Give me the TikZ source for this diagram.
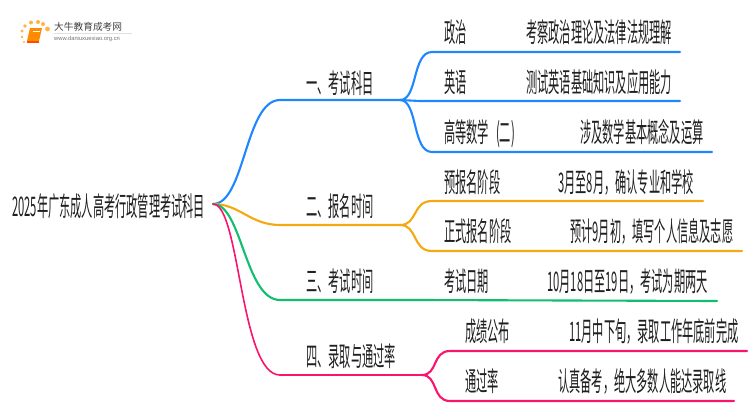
\documentclass[tikz,border=0pt]{standalone}
\usepackage{fontspec}
\setmainfont[FakeStretch=0.415]{Noto Sans CJK SC}
\newfontfamily\logofont{Noto Sans CJK SC}
\newfontfamily\urlfont{Liberation Sans}
\definecolor{cblue}{HTML}{1E87FF}
\definecolor{corange}{HTML}{F5A80F}
\definecolor{cgreen}{HTML}{10BE6E}
\definecolor{cpink}{HTML}{FA146E}
\tikzset{
 lbl/.style={anchor=base west,inner sep=0pt,font=\fontsize{27}{27}\selectfont,text=black!88},
 trunk/.style={line width=2.1pt,line cap=round},
 dotc/.style={fill=#1,draw=none,opacity=.75}
}
\begin{document}
\begin{tikzpicture}[x=1pt,y=-1pt]
\useasboundingbox (0,0) rectangle (750,410);
% logo
\foreach \a/\b/\r in {24/42/1.2,22/37/1.4,22/31/1.6,25/26/1.9,31/22.5/2,38/22/2,43/24/2,47.5/29/2.4}{
 \fill[dotc=orange!80!yellow] (\a,\b) circle (\r);}
\fill[orange!90!yellow] (30,28) -- (42,28) -- (39,41) -- (27,41) -- cycle;
\fill[orange!60!red] (27,41) -- (39,41) -- (39,42.5) -- (27,42.5) -- cycle;
\draw[white,line width=.4pt] (33,31) -- (40,31);
\node[anchor=west,inner sep=0pt,font=\logofont\fontsize{9.7}{10}\selectfont,text=black!75] (logo) at (54,27) {大牛教育成考网};
\fill[black!12] (54,33) rectangle (132,33.5);
\node[anchor=west,inner sep=0pt,font=\urlfont\fontsize{5.8}{6}\selectfont,text=black!55] (url) at (54,39) {www.daniuxuexiao.org.cn};
% nodes
\node[lbl] (root) at (12,216) {2025年广东成人高考行政管理考试科目};
\node[lbl] (a1) at (306,93) {一、考试科目};
\node[lbl] (a2) at (306,216) {二、报名时间};
\node[lbl] (a3) at (306,291) {三、考试时间};
\node[lbl] (a4) at (306,366) {四、录取与通过率};
\node[lbl] at (444,42) {政治};
\node[lbl] at (526,42) {考察政治理论及法律法规理解};
\node[lbl] at (444,92) {英语};
\node[lbl] at (526,92) {测试英语基础知识及应用能力};
\node[lbl] at (444,142) {高等数学\hspace{7pt}(二)};
\node[lbl] at (580,142) {涉及数学基本概念及运算};
\node[lbl] at (444,192) {预报名阶段};
\node[lbl] at (558,192) {3月至8月，确认专业和学校};
\node[lbl] at (444,241) {正式报名阶段};
\node[lbl] at (570,241) {预计9月初，填写个人信息及志愿};
\node[lbl] at (444,291) {考试日期};
\node[lbl] at (547,291) {10月18日至19日，考试为期两天};
\node[lbl] at (465,341) {成绩公布};
\node[lbl] at (569,341) {11月中下旬，录取工作年底前完成};
\node[lbl] at (465,391) {通过率};
\node[lbl] at (558,391) {认真备考，绝大多数人能达录取线};
% connectors
\coordinate (o) at (213,204);
\draw[trunk,cblue] (o) .. controls (245,204) and (245,100) .. (280,100) -- (400,100);
\draw[trunk,cblue] (400,100) .. controls (418,100) and (412,52) .. (432,52) -- (680,52);
\draw[trunk,cblue] (400,100) -- (420,101) -- (680,101);
\draw[trunk,cblue] (400,100) .. controls (418,100) and (412,152) .. (432,152) -- (712,152);
\draw[trunk,corange] (o) .. controls (240,204) and (250,225) .. (280,225) -- (400,225);
\draw[trunk,corange] (400,225) .. controls (418,225) and (412,201) .. (432,201) -- (703,201);
\draw[trunk,corange] (400,225) .. controls (418,225) and (412,251) .. (432,251) -- (742,251);
\draw[trunk,cgreen] (o) .. controls (242,204) and (245,300) .. (280,300) -- (420,300) -- (717,301);
\draw[line width=1.6pt,line cap=round,cpink] (o) .. controls (240,204) and (240,375) .. (280,375);
\draw[trunk,cpink] (280,375) -- (422,375);
\draw[trunk,cpink] (422,375) .. controls (438,375) and (432,351) .. (450,351) -- (747,351);
\draw[trunk,cpink] (422,375) .. controls (438,375) and (432,401) .. (450,401) -- (734,401);
\end{tikzpicture}
\end{document}
